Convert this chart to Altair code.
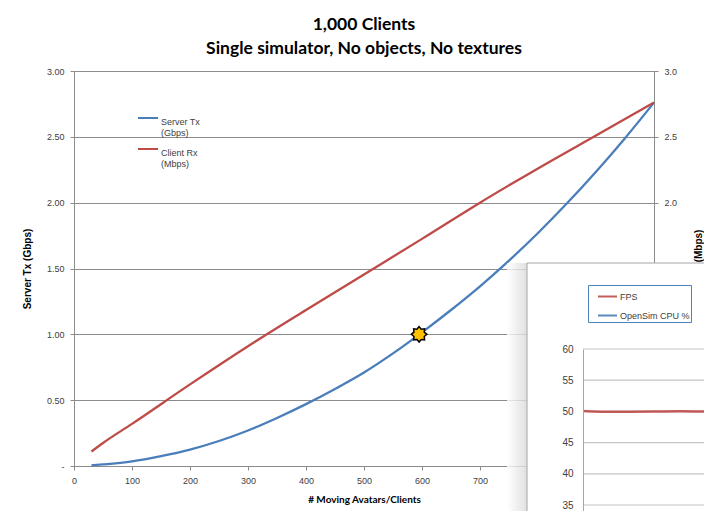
import math
import altair as alt
import pandas as pd

# ---------------- data ----------------
tx_clients = [30, 50, 100, 150, 200, 250, 300, 350, 400, 450, 500, 550, 600, 650, 700,
              750, 800, 850, 900, 950, 1000]
server_tx = [0.005, 0.012, 0.035, 0.075, 0.125, 0.19, 0.27, 0.365, 0.47, 0.585, 0.71,
             0.855, 1.015, 1.185, 1.365, 1.56, 1.77, 1.995, 2.235, 2.49, 2.76]

rx_clients = [30, 50, 100, 200, 300, 400, 500, 600, 700, 800, 900, 1000]
client_rx = [0.11, 0.175, 0.32, 0.62, 0.91, 1.185, 1.455, 1.725, 2.0, 2.26, 2.51, 2.76]

star_clients = [595]
star_value = [1.0]

fps_clients = [0, 15, 40, 80, 120, 165, 200, 230]
fps_values = [50.05, 50.0, 49.95, 49.95, 49.97, 50.03, 49.98, 49.95]

main_series = ["Server Tx (Gbps)", "Client Rx (Mbps)"]
inset_series = ["FPS", "OpenSim CPU %"]
x_ticks = list(range(0, 1001, 100))
y_ticks = [0, 0.5, 1.0, 1.5, 2.0, 2.5, 3.0]
y_right_ticks = [2.0, 2.5, 3.0]
inset_ticks = [30, 35, 40, 45, 50, 55, 60]
title_lines = ["1,000 Clients", "Single simulator, No objects, No textures"]

# ---------------- styles ----------------
BLUE = "#4a7ebb"
RED = "#be4b48"
GRID = "#8c8c8c"
LABEL = "#404040"
FONT = "Liberation Sans"
TFONT = "Lato"

df_tx = pd.DataFrame({"clients": tx_clients, "value": server_tx, "series": main_series[0]})
df_rx = pd.DataFrame({"clients": rx_clients, "value": client_rx, "series": main_series[1]})
df_star = pd.DataFrame({"clients": star_clients, "value": star_value})
df_fps = pd.DataFrame({"clients": fps_clients, "value": fps_values, "series": inset_series[0]})
df_grid = pd.DataFrame({"value": inset_ticks, "x0": [0] * len(inset_ticks),
                        "x1": [1000] * len(inset_ticks)})

# 8-point star path
pts = []
for i in range(16):
    r = 1.0 if i % 2 == 0 else 0.72
    a = math.pi / 2 + i * math.pi / 8
    pts.append((r * math.cos(a), -r * math.sin(a)))
star_path = "M" + " L".join(f"{px:.3f},{py:.3f}" for px, py in pts) + " Z"

split_expr = ("indexof(datum.label, ' (') > 0 ? "
              "[slice(datum.label, 0, indexof(datum.label, ' (')), "
              "slice(datum.label, indexof(datum.label, ' (') + 1)] : datum.label")

main_legend = alt.Legend(
    orient="none", legendX=63, legendY=36, title=None, symbolType="stroke",
    symbolSize=400, symbolStrokeWidth=2, labelFont=FONT, labelFontSize=9,
    labelColor=LABEL, labelOffset=2, rowPadding=0, labelBaseline="top",
    labelExpr=split_expr, padding=0,
)
main_color = alt.Color(
    "series:N",
    scale=alt.Scale(domain=main_series, range=[BLUE, RED]),
    legend=main_legend,
)

x_main = alt.X(
    "clients:Q",
    scale=alt.Scale(domain=[0, 1000], nice=False),
    axis=alt.Axis(
        values=x_ticks, grid=False, title="# Moving Avatars/Clients",
        domainColor=GRID, tickColor=GRID, tickSize=4, labelFont=FONT,
        labelFontSize=9, labelColor=LABEL, labelPadding=6, titleFont=TFONT,
        titleFontSize=10, titleFontWeight="bold", titleColor="black",
        titlePadding=9, zindex=0, labelFlush=False,
    ),
)
y_left = alt.Y(
    "value:Q",
    scale=alt.Scale(domain=[0, 3], nice=False),
    axis=alt.Axis(
        values=y_ticks, grid=True, gridColor=GRID, domainColor=GRID, tickColor=GRID,
        tickSize=4, labelExpr="datum.value == 0 ? '-' : format(datum.value, '.2f')",
        labelFont=FONT, labelFontSize=9, labelColor=LABEL, labelPadding=6,
        title="Server Tx (Gbps)", titleFont=FONT, titleFontSize=10,
        titleFontWeight="bold", titleColor="black", titlePadding=14, zindex=0,
    ),
)
y_right = alt.Y(
    "value:Q",
    scale=alt.Scale(domain=[0, 3], nice=False),
    axis=alt.Axis(
        orient="right", values=y_right_ticks, format=".1f", grid=False,
        domainColor=GRID, tickColor=GRID, tickSize=4, labelFont=FONT, labelFontSize=9,
        labelColor=LABEL, labelPadding=6, title="Client Rx (Mbps)",
        titleAngle=270, titleFont=FONT, titleFontSize=10, titleFontWeight="bold",
        titleColor="black", titlePadding=27, zindex=0,
    ),
)

tx_line = alt.Chart(df_tx).mark_line(strokeWidth=2.3, interpolate="monotone").encode(
    x=x_main, y=y_left, color=main_color)
star = alt.Chart(df_star).mark_point(
    shape=star_path, size=240, filled=True, fill="#ffc000", stroke="black",
    strokeWidth=1.5, opacity=1,
).encode(x=x_main, y=y_left)
left = alt.layer(tx_line, star)

rx_line = alt.Chart(df_rx).mark_line(strokeWidth=2.3, interpolate="monotone").encode(
    x=x_main, y=y_right, color=main_color)

main = alt.layer(left, rx_line).resolve_scale(y="independent")

# overlapping inset window with a soft shadow on its left
shadow = alt.Chart(pd.DataFrame({"d": [0]})).mark_rect(
    fill=alt.Gradient(
        gradient="linear", x1=0, x2=1, y1=0, y2=0,
        stops=[alt.GradientStop(offset=0, color="#ffffff"),
               alt.GradientStop(offset=1, color="#d9d9d9")],
    ),
    opacity=0.8,
).encode(x=alt.value(433), x2=alt.value(453), y=alt.value(192), y2=alt.value(500))

panel = alt.Chart(pd.DataFrame({"d": [0]})).mark_rect(
    fill="white", stroke="#a6a6a6", strokeWidth=1,
).encode(x=alt.value(453), x2=alt.value(700), y=alt.value(192), y2=alt.value(500))

x_in_scale = alt.Scale(domain=[0, 1000], range=[509, 1100])
y_in = alt.Y(
    "value:Q",
    scale=alt.Scale(domain=[30, 60], range=[465.2, 278]),
    axis=alt.Axis(
        orient="left", offset=-509, values=inset_ticks[1:], grid=False, ticks=False,
        domainColor="#a6a6a6", labelFont=FONT, labelFontSize=10, labelColor=LABEL,
        labelPadding=10, title=None, zindex=1,
    ),
)
grid_rules = alt.Chart(df_grid).mark_rule(color="#c4c4c4", strokeWidth=1.2).encode(
    y=y_in,
    x=alt.X("x0:Q", scale=x_in_scale, axis=None),
    x2="x1:Q",
)
inset_legend = alt.Legend(
    orient="none", legendX=514, legendY=214, title=None, symbolType="stroke",
    symbolSize=361, symbolStrokeWidth=2, symbolOffset=8, labelFont=FONT,
    labelFontSize=9, labelColor=LABEL, labelOffset=2, rowPadding=3, padding=1,
    labelExpr="datum.label + '    '",
    strokeColor="#4f81bd", fillColor="white",
)
fps_line = alt.Chart(df_fps).mark_line(strokeWidth=2.5, opacity=0.9,
                                       interpolate="monotone").encode(
    x=alt.X("clients:Q", scale=x_in_scale, axis=None),
    y=y_in,
    color=alt.Color("series:N", scale=alt.Scale(domain=inset_series, range=[RED, BLUE]),
                    legend=inset_legend),
)
inset = alt.layer(grid_rules, fps_line)

chart = alt.layer(main, shadow, panel, inset).resolve_scale(
    x="independent", y="independent", color="independent"
).properties(
    width=580,
    height=395,
    title=alt.TitleParams(
        text=title_lines, font=TFONT, fontSize=17.5, fontWeight="bold", color="black",
        anchor="middle", frame="group", offset=10, lineHeight=24,
    ),
    padding={"left": 66, "top": 63, "right": 50, "bottom": 45},
    autosize=alt.AutoSizeParams(type="none"),
).configure_view(stroke=None).configure(background="white")

chart.save("out.html", embed_options={"renderer": "svg", "actions": False})
